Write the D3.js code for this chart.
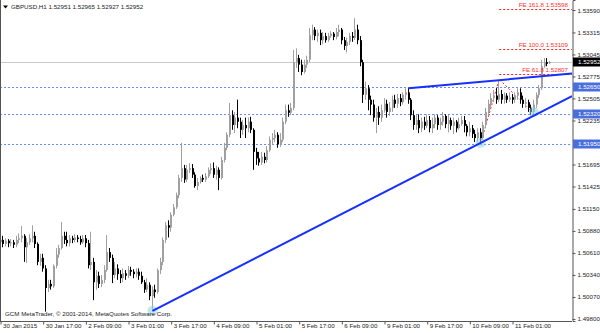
<!DOCTYPE html>
<html><head><meta charset="utf-8">
<script src="https://cdn.jsdelivr.net/npm/d3@7"></script>
<style>body{margin:0;background:#fff;} svg{display:block;font-family:"Liberation Sans",Arial,sans-serif;}</style>
</head><body><svg id="c" width="600" height="333"></svg>
<script>
// GBPUSD H1 bars, 30 Jan 2015 01:00 onward (one bar per hour)
const openP = [1.5074,1.5077,1.5072,1.5076,1.5073,1.5074,1.5071,1.5077,1.5079,1.5082,
1.5068,1.5074,1.5079,1.5082,1.5072,1.5050,1.5055,1.5042,1.5018,1.5023,
1.5020,1.5045,1.5059,1.5067,1.5082,1.5077,1.5073,1.5079,1.5077,1.5080,
1.5078,1.5074,1.5079,1.5073,1.5046,1.5050,1.5025,1.5033,1.5023,1.5028,
1.5040,1.5062,1.5055,1.5034,1.5042,1.5035,1.5030,1.5036,1.5033,1.5040,
1.5038,1.5035,1.5038,1.5033,1.5025,1.5016,1.5022,1.5008,1.5016,1.5013,
1.5040,1.5050,1.5077,1.5095,1.5092,1.5108,1.5117,1.5132,1.5153,1.5165,
1.5151,1.5163,1.5165,1.5157,1.5143,1.5148,1.5153,1.5151,1.5155,1.5163,
1.5165,1.5157,1.5163,1.5153,1.5175,1.5190,1.5206,1.5230,1.5218,1.5227,
1.5222,1.5212,1.5218,1.5214,1.5222,1.5212,1.5185,1.5177,1.5172,1.5179,
1.5175,1.5187,1.5200,1.5202,1.5206,1.5194,1.5200,1.5222,1.5236,1.5233,
1.5239,1.5295,1.5300,1.5292,1.5283,1.5292,1.5298,1.5328,1.5335,1.5327,
1.5331,1.5322,1.5327,1.5322,1.5327,1.5330,1.5326,1.5332,1.5335,1.5322,
1.5315,1.5320,1.5327,1.5325,1.5335,1.5322,1.5295,1.5255,1.5263,1.5249,
1.5243,1.5227,1.5234,1.5227,1.5236,1.5244,1.5234,1.5239,1.5249,1.5244,
1.5251,1.5246,1.5255,1.5258,1.5249,1.5230,1.5218,1.5224,1.5214,1.5222,
1.5217,1.5224,1.5214,1.5219,1.5227,1.5218,1.5222,1.5229,1.5219,1.5224,
1.5217,1.5222,1.5214,1.5219,1.5224,1.5217,1.5209,1.5214,1.5207,1.5202,
1.5209,1.5202,1.5218,1.5234,1.5244,1.5251,1.5254,1.5249,1.5256,1.5249,
1.5254,1.5249,1.5252,1.5249,1.5254,1.5258,1.5249,1.5244,1.5246,1.5239,
1.5234,1.5243,1.5255,1.5263,1.5290,1.5295,1.52951];
const highP = [1.5080,1.5082,1.5079,1.5078,1.5078,1.5077,1.5082,1.5085,1.5094,1.5084,
1.5079,1.5084,1.5095,1.5087,1.5074,1.5060,1.5060,1.5046,1.5028,1.5028,
1.5047,1.5067,1.5071,1.5099,1.5087,1.5087,1.5083,1.5082,1.5084,1.5083,
1.5082,1.5083,1.5083,1.5077,1.5087,1.5055,1.5040,1.5038,1.5034,1.5046,
1.5083,1.5067,1.5059,1.5050,1.5047,1.5040,1.5042,1.5040,1.5045,1.5044,
1.5041,1.5042,1.5042,1.5038,1.5028,1.5030,1.5025,1.5020,1.5022,1.5042,
1.5055,1.5080,1.5099,1.5101,1.5111,1.5121,1.5135,1.5157,1.5196,1.5169,
1.5169,1.5171,1.5170,1.5160,1.5153,1.5155,1.5157,1.5159,1.5166,1.5171,
1.5172,1.5168,1.5166,1.5179,1.5196,1.5209,1.5245,1.5236,1.5234,1.5249,
1.5227,1.5224,1.5227,1.5227,1.5228,1.5214,1.5190,1.5185,1.5185,1.5184,
1.5192,1.5204,1.5208,1.5212,1.5209,1.5208,1.5227,1.5243,1.5243,1.5245,
1.5310,1.5312,1.5304,1.5298,1.5298,1.5303,1.5337,1.5341,1.5338,1.5335,
1.5335,1.5332,1.5331,1.5331,1.5333,1.5332,1.5337,1.5341,1.5337,1.5326,
1.5325,1.5331,1.5332,1.5349,1.5341,1.5327,1.5298,1.5271,1.5267,1.5254,
1.5249,1.5239,1.5241,1.5243,1.5251,1.5249,1.5246,1.5254,1.5255,1.5256,
1.5256,1.5258,1.5263,1.5263,1.5251,1.5236,1.5230,1.5231,1.5227,1.5228,
1.5231,1.5229,1.5227,1.5231,1.5230,1.5227,1.5234,1.5231,1.5230,1.5227,
1.5227,1.5224,1.5227,1.5229,1.5229,1.5219,1.5222,1.5218,1.5212,1.5214,
1.5214,1.5222,1.5239,1.5249,1.5257,1.5261,1.5263,1.5273,1.5261,1.5258,
1.5257,1.5258,1.5256,1.5258,1.5263,1.5263,1.5254,1.5251,1.5249,1.5243,
1.5249,1.5258,1.5267,1.5298,1.5300,1.5300,1.52965];
const lowP = [1.5071,1.5068,1.5069,1.5068,1.5069,1.5067,1.5068,1.5073,1.5074,1.5050,
1.5049,1.5071,1.5074,1.5067,1.5046,1.5045,1.5038,1.4989,1.5013,1.5016,
1.5018,1.5042,1.5055,1.5065,1.5072,1.5069,1.5069,1.5073,1.5074,1.5074,
1.5071,1.5072,1.5068,1.5042,1.5040,1.5003,1.5016,1.5018,1.5019,1.5024,
1.5038,1.5050,1.5024,1.5030,1.5028,1.5024,1.5025,1.5028,1.5030,1.5033,
1.5030,1.5031,1.5028,1.5023,1.5012,1.5013,1.5003,1.4989,1.5006,1.5011,
1.5035,1.5046,1.5073,1.5080,1.5087,1.5106,1.5115,1.5128,1.5148,1.5147,
1.5148,1.5159,1.5153,1.5141,1.5138,1.5146,1.5148,1.5148,1.5153,1.5158,
1.5153,1.5151,1.5138,1.5151,1.5172,1.5187,1.5203,1.5212,1.5208,1.5214,
1.5202,1.5206,1.5202,1.5209,1.5208,1.5163,1.5169,1.5168,1.5169,1.5171,
1.5172,1.5185,1.5194,1.5197,1.5190,1.5191,1.5197,1.5219,1.5228,1.5230,
1.5236,1.5288,1.5283,1.5279,1.5281,1.5288,1.5295,1.5322,1.5322,1.5320,
1.5316,1.5317,1.5319,1.5320,1.5325,1.5322,1.5323,1.5327,1.5317,1.5310,
1.5307,1.5316,1.5320,1.5322,1.5317,1.5290,1.5245,1.5249,1.5236,1.5230,
1.5222,1.5208,1.5218,1.5222,1.5233,1.5227,1.5229,1.5234,1.5239,1.5239,
1.5241,1.5243,1.5249,1.5244,1.5224,1.5212,1.5212,1.5208,1.5209,1.5212,
1.5214,1.5209,1.5208,1.5214,1.5212,1.5212,1.5217,1.5214,1.5209,1.5212,
1.5207,1.5209,1.5212,1.5217,1.5209,1.5204,1.5204,1.5202,1.5197,1.5197,
1.5195,1.5200,1.5214,1.5230,1.5239,1.5246,1.5244,1.5246,1.5244,1.5244,
1.5245,1.5246,1.5244,1.5245,1.5249,1.5244,1.5239,1.5239,1.5234,1.5230,
1.5231,1.5239,1.5251,1.5261,1.5288,1.5290,1.52927];
const closeP = [1.5077,1.5072,1.5076,1.5073,1.5074,1.5071,1.5077,1.5079,1.5082,1.5068,
1.5074,1.5079,1.5082,1.5072,1.5050,1.5055,1.5042,1.5018,1.5023,1.5020,
1.5045,1.5059,1.5067,1.5082,1.5077,1.5073,1.5079,1.5077,1.5080,1.5078,
1.5074,1.5079,1.5073,1.5046,1.5050,1.5025,1.5033,1.5023,1.5028,1.5040,
1.5062,1.5055,1.5034,1.5042,1.5035,1.5030,1.5036,1.5033,1.5040,1.5038,
1.5035,1.5038,1.5033,1.5025,1.5016,1.5022,1.5008,1.5016,1.5013,1.5040,
1.5050,1.5077,1.5095,1.5092,1.5108,1.5117,1.5132,1.5153,1.5165,1.5151,
1.5163,1.5165,1.5157,1.5143,1.5148,1.5153,1.5151,1.5155,1.5163,1.5165,
1.5157,1.5163,1.5153,1.5175,1.5190,1.5206,1.5230,1.5218,1.5227,1.5222,
1.5212,1.5218,1.5214,1.5222,1.5212,1.5185,1.5177,1.5172,1.5179,1.5175,
1.5187,1.5200,1.5202,1.5206,1.5194,1.5200,1.5222,1.5236,1.5233,1.5239,
1.5295,1.5300,1.5292,1.5283,1.5292,1.5298,1.5328,1.5335,1.5327,1.5331,
1.5322,1.5327,1.5322,1.5327,1.5330,1.5326,1.5332,1.5335,1.5322,1.5315,
1.5320,1.5327,1.5325,1.5335,1.5322,1.5295,1.5255,1.5263,1.5249,1.5243,
1.5227,1.5234,1.5227,1.5236,1.5244,1.5234,1.5239,1.5249,1.5244,1.5251,
1.5246,1.5255,1.5258,1.5249,1.5230,1.5218,1.5224,1.5214,1.5222,1.5217,
1.5224,1.5214,1.5219,1.5227,1.5218,1.5222,1.5229,1.5219,1.5224,1.5217,
1.5222,1.5214,1.5219,1.5224,1.5217,1.5209,1.5214,1.5207,1.5202,1.5209,
1.5202,1.5218,1.5234,1.5244,1.5251,1.5254,1.5249,1.5256,1.5249,1.5254,
1.5249,1.5252,1.5249,1.5254,1.5258,1.5249,1.5244,1.5246,1.5239,1.5234,
1.5243,1.5255,1.5263,1.5290,1.5295,1.5293,1.52952];

const xTickLabels = ["30 Jan 2015","30 Jan 17:00","2 Feb 09:00","3 Feb 01:00","3 Feb 17:00","4 Feb 09:00","5 Feb 01:00","5 Feb 17:00","6 Feb 09:00","9 Feb 01:00","9 Feb 17:00","10 Feb 09:00","11 Feb 01:00"];
const xTickBars = [0,16,32,48,64,80,96,112,128,144,160,176,192];
const yTickValues = [1.53590,1.53315,1.53045,1.52775,1.52505,1.52235,1.51695,1.51425,1.51150,1.50880,1.50610,1.50340,1.50070,1.49800];
const levelPrices = [1.52650,1.52320,1.51950];
const bidPrice = 1.52952;
const titleText = "GBPUSD,H1  1.52951 1.52965 1.52927 1.52952";
const copyrightText = "GCM MetaTrader, \u00A9 2001-2014, MetaQuotes Software Corp.";
const trendLow = [[57,1.4990],[180,1.5196]];
const trendHigh = [[153,1.5263],[187,1.5273]];
const feA = [180,1.51950], feB = [187,1.52741], feC = [200,1.52318];
const feRatios = [61.8,100.0,161.8];
const markerPoints = [[57,1.4990],[180,1.5196],[200,1.5234]];

const W = 600, H = 333, plotR = 572, plotB = 321;
const svg = d3.select("#c");
const x = d3.scaleLinear().domain([-0.2, 214.3]).range([0, plotR]);
const y = d3.scaleLinear().domain([1.49775, 1.53713]).range([plotB, 0]);

svg.append("rect").attr("width",W).attr("height",H).attr("fill","#fff");
const clip = svg.append("defs").append("clipPath").attr("id","pc").append("rect").attr("x",0).attr("y",0).attr("width",plotR).attr("height",plotB);
const plot = svg.append("g").attr("clip-path","url(#pc)");

// bid line
plot.append("line").attr("x1",0).attr("x2",plotR).attr("y1",Math.round(y(bidPrice))+0.5).attr("y2",Math.round(y(bidPrice))+0.5).attr("stroke","#c8c8c8");
// level lines
plot.selectAll(".lvl").data(levelPrices).join("line")
  .attr("x1",0).attr("x2",plotR)
  .attr("y1",d=>Math.round(y(d))+0.5).attr("y2",d=>Math.round(y(d))+0.5)
  .attr("stroke","#6a8cf0").attr("stroke-dasharray","2,2");

// fibo expansion
const feRange = feB[1]-feA[1];
const feLevels = feRatios.map(r=>({r, v: feC[1]+feRange*r/100}));
plot.append("polyline").attr("points",[feA,feB,feC].map(p=>x(p[0])+","+y(p[1])).join(" "))
  .attr("fill","none").attr("stroke","#ff2020").attr("stroke-dasharray","2,2");
plot.selectAll(".fel").data(feLevels).join("line")
  .attr("x1",x(feB[0])).attr("x2",plotR)
  .attr("y1",d=>Math.round(y(d.v))+0.5).attr("y2",d=>Math.round(y(d.v))+0.5)
  .attr("stroke","#ff2020").attr("stroke-dasharray","2,2");

// candles
const data = openP.map((o,i)=>({i,o,h:highP[i],l:lowP[i],c:closeP[i]}));
const cg = plot.append("g");
data.forEach(d=>{
  const cx = Math.round(x(d.i));
  const up = d.c >= d.o;
  const col = up ? "#a0a0a0" : "#000";
  cg.append("line").attr("x1",cx-0.5).attr("x2",cx-0.5).attr("y1",y(d.h)).attr("y2",y(d.l)).attr("stroke",col);
  const yt = y(Math.max(d.o,d.c)), yb = y(Math.min(d.o,d.c));
  cg.append("rect").attr("x",cx-1).attr("width",2).attr("y",yt).attr("height",Math.max(1,yb-yt)).attr("fill",col);
});

// marker circles
plot.selectAll(".mk").data(markerPoints).join("circle")
  .attr("cx",d=>x(d[0])).attr("cy",d=>y(d[1])).attr("r",5)
  .attr("fill","#8fd3dd").attr("opacity",0.55);

// trend lines (rays)
function ray(pts){
  const [a,b]=pts; const s=(b[1]-a[1])/(b[0]-a[0]);
  const endBar = x.invert(plotR);
  return [[a[0],a[1]],[endBar,a[1]+s*(endBar-a[0])]];
}
[trendLow,trendHigh].forEach(t=>{
  const r = ray(t);
  plot.append("line").attr("x1",x(r[0][0])).attr("y1",y(r[0][1])).attr("x2",x(r[1][0])).attr("y2",y(r[1][1]))
    .attr("stroke","#1530ff").attr("stroke-width",2);
});

// fibo labels
plot.selectAll(".feLab").data(feLevels).join("text")
  .attr("x",568).attr("y",d=>y(d.v)-2).attr("text-anchor","end")
  .attr("font-size",6.2).attr("fill","#ff3030")
  .text(d=>"FE "+d.r.toFixed(1)+" "+d.v.toFixed(5));

// frame
svg.append("line").attr("x1",0.5).attr("x2",0.5).attr("y1",0).attr("y2",plotB).attr("stroke","#555");

// axes
const yAxis = d3.axisRight(y).tickValues(yTickValues).tickSize(3).tickFormat(d3.format(".5f"));
const ga = svg.append("g").attr("transform",`translate(${plotR+0.5},0)`).call(yAxis);
ga.select(".domain").attr("stroke","#555");
ga.selectAll(".tick line").attr("stroke","#555");
ga.selectAll("text").attr("font-size",6.2).attr("fill","#222").attr("font-family","Liberation Sans, Arial").attr("x",5);

const xAxis = d3.axisBottom(x).tickValues(xTickBars).tickSize(3).tickFormat((d,i)=>xTickLabels[i]);
const gx = svg.append("g").attr("transform",`translate(0,${plotB+0.5})`).call(xAxis);
gx.select(".domain").attr("stroke","#555").attr("d",`M0,0H${plotR}`);
gx.selectAll(".tick line").attr("stroke","#555");
gx.selectAll("text").attr("font-size",6.2).attr("fill","#222").attr("font-family","Liberation Sans, Arial")
  .attr("text-anchor","start").attr("x",2).attr("y",2).attr("dy","0.71em");

// highlighted price labels
function priceTag(p, bg){
  const g = svg.append("g").attr("transform",`translate(${plotR+1},${Math.round(y(p))})`);
  g.append("rect").attr("x",0).attr("y",-4.5).attr("width",W-plotR-1).attr("height",9).attr("fill",bg);
  g.append("text").attr("x",5).attr("y",0).attr("dy","0.35em").attr("font-size",6.2).attr("fill","#fff").text(p.toFixed(5));
}
levelPrices.forEach(p=>priceTag(p,"#4a6edb"));
priceTag(bidPrice,"#000");

// title
svg.append("path").attr("d","M3,5.5 L8,5.5 L5.5,8.5 Z").attr("fill","#000");
svg.append("text").attr("x",11).attr("y",9).attr("font-size",6.2).attr("fill","#222").text(titleText);
svg.append("text").attr("x",5).attr("y",316).attr("font-size",6.2).attr("fill","#222").text(copyrightText);
</script></body></html>
